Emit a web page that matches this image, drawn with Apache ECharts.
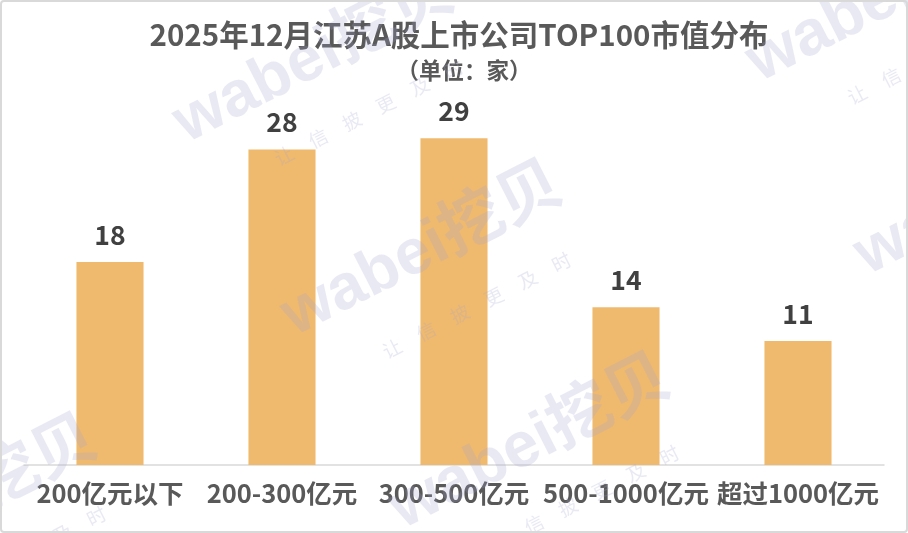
<!DOCTYPE html>
<html>
<head>
<meta charset="utf-8">
<script src="https://cdn.jsdelivr.net/npm/echarts@6/dist/echarts.min.js"></script>
<style>
html,body{margin:0;padding:0;background:#fff;}
#main{width:908px;height:533px;}
</style>
</head>
<body>
<div id="main"></div>
<script>
const titleText = '2025年12月江苏A股上市公司TOP100市值分布';
const subtitleText = '（单位：家）';
const categories = ['200亿元以下', '200-300亿元', '300-500亿元', '500-1000亿元', '超过1000亿元'];
const companyCounts = [18, 28, 29, 14, 11];
const watermarkMain = 'wabei挖贝';
const watermarkSub = '让　信　披　更　及　时';

const FONT = '"Noto Sans CJK SC", "Noto Sans", sans-serif';

// watermark tile anchors (baseline start of the big text)
const wmAnchors = [[193,156],[301,349],[409,542],[-164,603],[-272,410],[766,95],[874,288],[982,481]];
const ang = 27 * Math.PI / 180;
const ux = Math.cos(ang), uy = -Math.sin(ang);
const nx = Math.sin(ang), ny = Math.cos(ang);
const wmGraphics = [];
wmAnchors.forEach(function (p) {
  wmGraphics.push({
    type: 'text', x: p[0], y: p[1], rotation: ang, z: 100, silent: true,
    style: { text: watermarkMain, font: 'bold 64px "Liberation Sans", "Noto Sans CJK SC", sans-serif',
      fill: 'rgba(165,165,210,0.24)', textAlign: 'left', textVerticalAlign: 'bottom' }
  });
  const sx = p[0] + ux * 72 + nx * 41;
  const sy = p[1] + uy * 72 + ny * 41;
  wmGraphics.push({
    type: 'text', x: sx, y: sy, rotation: ang, z: 100, silent: true,
    style: { text: watermarkSub, font: '19px "Noto Sans CJK SC", sans-serif',
      fill: 'rgba(165,165,210,0.24)', textAlign: 'left', textVerticalAlign: 'middle' }
  });
});

const chart = echarts.init(document.getElementById('main'), null, {renderer: 'canvas'});
chart.setOption({
  animation: false,
  backgroundColor: '#ffffff',
  title: [
    { text: titleText, left: 454, top: 15, textAlign: 'center',
      textStyle: { fontFamily: FONT, fontSize: 29.5, fontWeight: 'bold', color: '#595959' } },
    { text: subtitleText, left: 459, top: 54, textAlign: 'center',
      textStyle: { fontFamily: FONT, fontSize: 22.5, fontWeight: 'bold', color: '#595959' } }
  ],
  grid: { left: 24, right: 24, top: 70.5, bottom: 68, containLabel: false },
  xAxis: {
    type: 'category', data: categories,
    axisLine: { show: true, lineStyle: { color: '#D9D9D9', width: 1.5 } },
    axisTick: { show: false },
    axisLabel: { interval: 0, margin: 16, fontFamily: FONT, fontSize: 25.5, fontWeight: 'bold', color: '#595959' }
  },
  yAxis: {
    type: 'value', min: 0, max: 35, show: false,
    splitLine: { show: false }
  },
  series: [{
    type: 'bar', data: companyCounts, barWidth: '39%',
    itemStyle: { color: '#F0BA6E' },
    label: { show: true, position: 'top', distance: 14, fontFamily: FONT, fontSize: 26.5,
      fontWeight: 'bold', color: '#404040' }
  }],
  graphic: [
    { type: 'rect', shape: { x: 1, y: 1, width: 906, height: 531, r: 3 }, z: 101, silent: true,
      style: { fill: 'none', stroke: '#D9D9D9', lineWidth: 2 } }
  ].concat(wmGraphics)
});
</script>
</body>
</html>
